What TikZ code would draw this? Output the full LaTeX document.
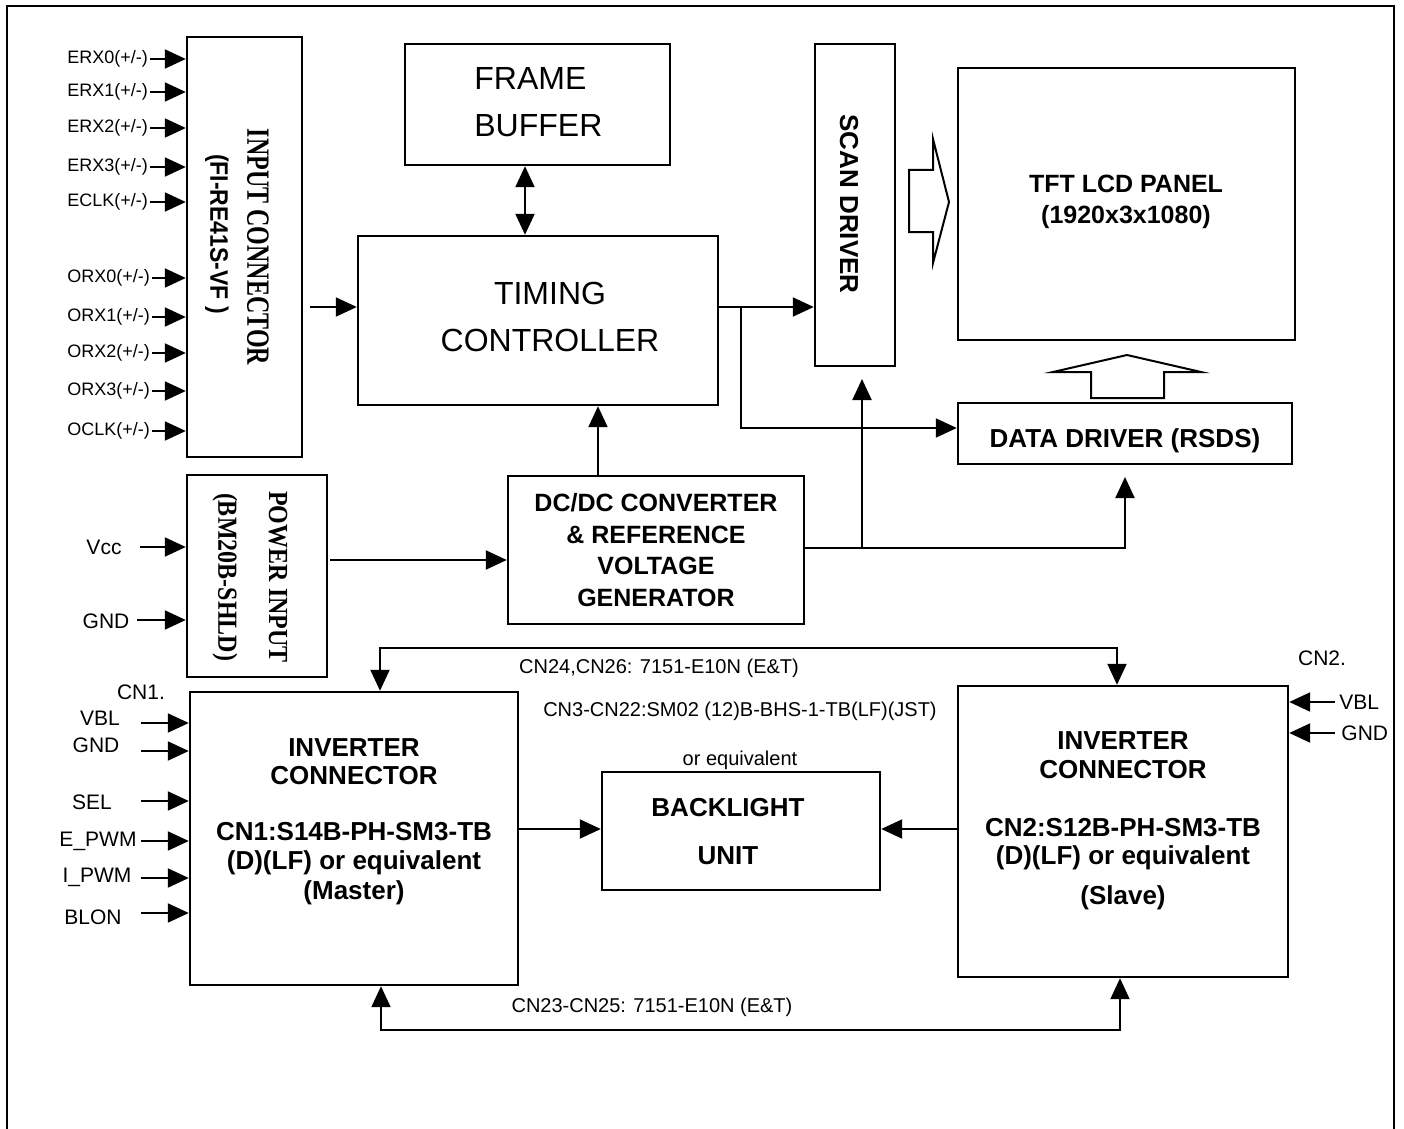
\documentclass[tikz,border=0pt]{standalone}
\usepackage{fontspec}
\usepackage{graphicx}
\setmainfont{Liberation Sans}
\newfontfamily\serifbf{Liberation Serif}
\usetikzlibrary{arrows.meta}
\begin{document}
\begin{tikzpicture}[x=0.5pt,y=-0.5pt,
  box/.style={draw, line width=1.2pt, inner sep=0pt},
  lin/.style={line width=1pt},
  arr/.style={line width=1pt, -{Triangle[length=10.5pt,width=9.5pt]}},
  darr/.style={line width=1pt, {Triangle[length=10.5pt,width=9.5pt]}-{Triangle[length=10.5pt,width=9.5pt]}},
  lbl/.style={font=\fontsize{9}{11}\selectfont, inner sep=0pt},
  lblb/.style={font=\fontsize{10.5}{12}\selectfont, inner sep=0pt},
  note/.style={font=\fontsize{10}{12}\selectfont, inner sep=0pt},
  big/.style={font=\fontsize{16}{23.5}\selectfont, inner sep=0pt},
  bld/.style={font=\fontsize{12.5}{15.8}\selectfont\bfseries, inner sep=0pt, align=center},
  hollow/.style={line width=1pt}
]
\useasboundingbox (0,0) rectangle (1404,1129);
% outer frame (open at bottom)
\draw[line width=1pt] (7,1129) -- (7,6) -- (1394,6) -- (1394,1129);

% boxes
\node[box, minimum width=57.5pt, minimum height=210pt] (inconn) at (244.5,247) {};
\node[box, minimum width=132.5pt, minimum height=60.5pt] (fbuf) at (537.5,104.5) {};
\node[box, minimum width=180pt, minimum height=84.5pt] (tcon) at (538,320.5) {};
\node[box, minimum width=40pt, minimum height=161pt] (scan) at (855,205) {};
\node[box, minimum width=168.5pt, minimum height=136pt] (tft) at (1126.5,204) {};
\node[box, minimum width=167pt, minimum height=30.5pt] (ddrv) at (1125,433.5) {};
\node[box, minimum width=70pt, minimum height=101pt] (pwr) at (257,576) {};
\node[box, minimum width=148pt, minimum height=74pt] (dcdc) at (656,550) {};
\node[box, minimum width=164pt, minimum height=146.5pt] (invm) at (354,838.5) {};
\node[box, minimum width=165pt, minimum height=145.5pt] (invs) at (1123,831.5) {};
\node[box, minimum width=139pt, minimum height=59pt] (blu) at (741,831) {};

% texts in boxes
\node[rotate=-90, inner sep=0pt, font=\serifbf\fontsize{12}{14}\selectfont\bfseries] (tinc) at (258,247) {\scalebox{1}[1.35]{INPUT CONNECTOR}};
\node[rotate=-90, inner sep=0pt, font=\fontsize{11.5}{14}\selectfont\bfseries] (tfi) at (217,234) {\scalebox{1}[1.1]{(FI-RE41S-VF )}};
\node[big, anchor=west, align=left] (tfb) at (474,102) {FRAME\\BUFFER};
\node[big, align=center] (ttc) at (550,317) {TIMING\\CONTROLLER};
\node[rotate=-90, font=\fontsize{13}{15}\selectfont\bfseries, inner sep=0pt] (tsd) at (849,204) {SCAN DRIVER};
\node[bld] (ttft) at (1126,202) {TFT LCD PANEL\\(1920x3x1080)};
\node[bld, font=\fontsize{13}{15}\selectfont\bfseries] (tdd) at (1125,441) {DATA DRIVER (RSDS)};
\node[rotate=-90, inner sep=0pt, font=\serifbf\fontsize{12}{14}\selectfont\bfseries] (tpw) at (278,577) {\scalebox{1}[1.15]{POWER INPUT}};
\node[rotate=-90, inner sep=0pt, font=\serifbf\fontsize{12}{14}\selectfont\bfseries] (tbm) at (225,577) {\scalebox{1}[1.15]{(BM20B-SHLD)}};
\node[bld] (tdc) at (656,550) {DC/DC CONVERTER\\\& REFERENCE\\VOLTAGE\\GENERATOR};
\node[bld, font=\fontsize{13}{14}\selectfont\bfseries] (tim1) at (354,762) {INVERTER\\CONNECTOR};
\node[bld, font=\fontsize{13}{14.75}\selectfont\bfseries] (tim2) at (354,863.5) {CN1:S14B-PH-SM3-TB\\(D)(LF) or equivalent\\(Master)};
\node[bld, font=\fontsize{13}{14.5}\selectfont\bfseries] (tis1) at (1123,755.5) {INVERTER\\CONNECTOR};
\node[bld, font=\fontsize{13}{14}\selectfont\bfseries] (tis2) at (1123,844) {CN2:S12B-PH-SM3-TB\\(D)(LF) or equivalent};
\node[bld, font=\fontsize{13}{14}\selectfont\bfseries] (tis3) at (1123,898) {(Slave)};
\node[bld, font=\fontsize{13}{14}\selectfont\bfseries] (tbl1) at (728,808) {BACKLIGHT};
\node[bld, font=\fontsize{13}{14}\selectfont\bfseries] (tbl2) at (728,856) {UNIT};

% input connector signals
\foreach \nm/\yy/\tx in {e0/59/{ERX0(+/-)}, e1/92/{ERX1(+/-)}, e2/128/{ERX2(+/-)}, e3/167/{ERX3(+/-)}, ec/202/{ECLK(+/-)},
                        o0/278/{ORX0(+/-)}, o1/317/{ORX1(+/-)}, o2/353/{ORX2(+/-)}, o3/391/{ORX3(+/-)}, oc/431/{OCLK(+/-)}}{
  \node[lbl, anchor=west] (\nm) at (67,\yy) {\tx};
  \draw[arr] ([xshift=1pt]\nm.east) -- (\nm.east -| inconn.west);
}

% power inputs
\node[lblb] (vcc) at (104,547) {Vcc};
\coordinate (vccs) at (140,547);
\draw[arr] (vccs) -- (vccs -| pwr.west);
\node[lblb] (gndp) at (106,621) {GND};
\coordinate (gnds) at (137,620);
\draw[arr] (gnds) -- (gnds -| pwr.west);

% input connector -> timing controller
\coordinate (tin) at (310,307);
\draw[arr] (tin) -- (tin -| tcon.west);
% frame buffer <-> timing controller
\coordinate (fx) at (525,0);
\draw[darr] (fx |- fbuf.south) -- (fx |- tcon.north);
% timing controller -> scan driver
\draw[arr] (tin -| tcon.east) -- (tin -| scan.west);
% branch to data driver
\coordinate (br) at (741,307);
\coordinate (brd) at (741,428);
\draw[arr] (br) -- (brd) -- (brd -| ddrv.west);
% DC/DC -> timing controller
\coordinate (dx) at (598,0);
\draw[arr] (dx |- dcdc.north) -- (dx |- tcon.south);
% power -> DC/DC
\coordinate (pin) at (330,560);
\draw[arr] (pin) -- (pin -| dcdc.west);
% DC/DC -> data driver and scan driver
\coordinate (dj) at (1125,548);
\coordinate (ddin) at (1125,477);
\draw[arr] (dj -| dcdc.east) -- (dj) -- (ddin);
\coordinate (sj) at (862,548);
\coordinate (sin) at (862,379);
\draw[arr] (sj) -- (sin);

% hollow arrows
\draw[hollow] (909,170) -- (933,170) -- (933,139) -- (949,202) -- (933,263) -- (933,232) -- (909,232) -- cycle;
\draw[hollow] (1091,398) -- (1091,372) -- (1053,372) -- (1127,355) -- (1201,372) -- (1164,372) -- (1164,398) -- cycle;

% top bus
\coordinate (tl) at (380,648);
\coordinate (tr) at (1117,648);
\draw[darr] (tl |- invm.north) -- (tl) -- (tr) -- (tr |- invs.north);
\node[note] (n1) at (659,668) {CN24,CN26: 7151-E10N (E\&T)};
\node[note] (n2) at (740,711) {CN3-CN22:SM02 (12)B-BHS-1-TB(LF)(JST)};
\node[note] (n3) at (740,760) {or equivalent};
% bottom bus
\coordinate (bl) at (381,1030);
\coordinate (bre) at (1120,1030);
\draw[darr] (bl |- invm.south) -- (bl) -- (bre) -- (bre |- invs.south);
\node[note] (n4) at (652,1007) {CN23-CN25: 7151-E10N (E\&T)};

% inverters -> backlight
\coordinate (ly) at (0,829);
\draw[arr] (ly -| invm.east) -- (ly -| blu.west);
\draw[arr] (ly -| invs.west) -- (ly -| blu.east);

% CN1 inputs
\node[lblb] (cn1) at (141,692) {CN1.};
\foreach \nm/\ly/\ay/\lx/\tx in {vbl/718/723/100/VBL, gnd/745/751/96/GND, sel/802/801/92/SEL,
                                  epwm/841/841/98/{E\_PWM}, ipwm/877/878/97/{I\_PWM}, blon/917/913/93/BLON}{
  \node[lblb] (\nm) at (\lx,\ly) {\tx};
  \coordinate (\nm s) at (141,\ay);
  \draw[arr] (\nm s) -- (\nm s -| invm.west);
}
% CN2 inputs
\node[lblb] (cn2) at (1322,658) {CN2.};
\node[lblb, anchor=west] (vbl2) at (1339,702) {VBL};
\draw[arr] ([xshift=-2pt]vbl2.west) -- (vbl2.west -| invs.east);
\node[lblb, anchor=west] (gnd2) at (1341,733) {GND};
\draw[arr] ([xshift=-3pt]gnd2.west) -- (gnd2.west -| invs.east);
\end{tikzpicture}
\end{document}
